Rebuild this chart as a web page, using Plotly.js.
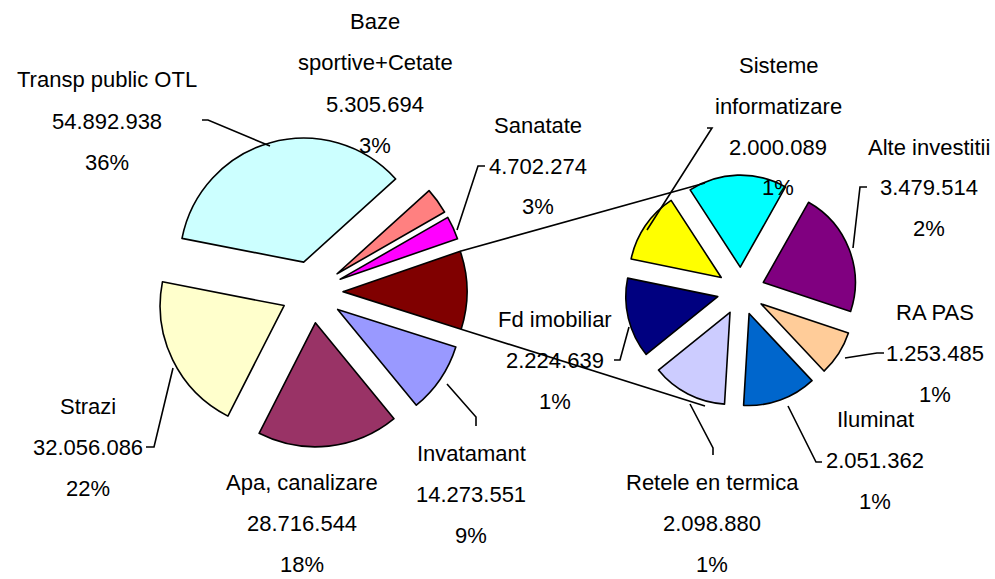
<!DOCTYPE html>
<html><head><meta charset="utf-8">
<script src="https://cdn.plot.ly/plotly-3.0.1.min.js"></script>
<style>html,body{margin:0;padding:0;background:#fff}#chart{width:995px;height:579px}</style>
</head><body><div id="chart"></div>
<script>
// ---------- DATA ----------
// secondary pie (detail of the aggregated slice), clockwise from the top
const secCategories = ['Alte (fara eticheta)', 'Alte investitii', 'RA PAS', 'Iluminat', 'Retele en termica', 'Fd imobiliar', 'Sisteme informatizare'];
const secValues = [2750000, 3479514, 1253485, 2051362, 2098880, 2224639, 2000089];
const secPercentText = ['', '2%', '1%', '1%', '1%', '1%', '1%'];
const secShowLabel = [false, true, true, true, true, true, true];

// main pie, clockwise starting with the aggregated slice
const mainCategories = ['Altele', 'Invatamant', 'Apa, canalizare', 'Strazi', 'Transp public OTL', 'Baze sportive+Cetate', 'Sanatate'];
const mainKnownValues = [null, 14273551, 28716544, 32056086, 54892938, 5305694, 4702274];
const mainPercentText = ['', '9%', '18%', '22%', '36%', '3%', '3%'];
const mainShowLabel = [false, true, true, true, true, true, true];

// ---------- STYLE / LAYOUT ----------
const W = 995, H = 579;
const mainColors = ['#800000', '#9999FF', '#993366', '#FFFFCC', '#CCFFFF', '#FF8080', '#FF00FF'];
const secColors = ['#00FFFF', '#800080', '#FFCC99', '#0066CC', '#CCCCFF', '#000080', '#FFFF00'];
const mainGeom = {cx: 312, cy: 292, R: 124, pull: 0.25, rotation: 71};
const secGeom = {cx: 741, cy: 291, R: 92, pull: 0.26, rotation: -33};
const FONT = {family: 'Liberation Sans, Arial, sans-serif', size: 22, color: '#000'};
const LINE_GAP = 41;
const wrapNames = {'Baze sportive+Cetate': ['Baze', 'sportive+Cetate'], 'Sisteme informatizare': ['Sisteme', 'informatizare']};
const labelPos = {
  'Transp public OTL': {x: 107, y: 80, lead: [[202,120],[208,120],[270,146]]},
  'Baze sportive+Cetate': {x: 375, y: 22, lead: null},
  'Sanatate': {x: 538, y: 125, lead: [[485,166],[478,166],[457,230]]},
  'Invatamant': {x: 471, y: 453, lead: [[476,426],[476,417],[447,384]]},
  'Apa, canalizare': {x: 302, y: 482, lead: null},
  'Strazi': {x: 88, y: 406, lead: [[146,447],[154,447],[173,368]]},
  'Sisteme informatizare': {x: 778, y: 65, lead: [[707,128],[712,128],[647,230]]},
  'Alte investitii': {x: 929, y: 147, lead: [[867,187],[860,187],[853,248]]},
  'RA PAS': {x: 935, y: 312, lead: [[884,353],[877,353],[845,358]]},
  'Iluminat': {x: 875, y: 419, lead: [[822,462],[816,462],[788,406]]},
  'Retele en termica': {x: 712, y: 482, lead: [[713,455],[713,448],[690,404]]},
  'Fd imobiliar': {x: 555, y: 319, lead: [[614,360],[620,360],[629,327]]}
};
const connectorTargets = [[705,183],[705,406]];

// ---------- BUILD ----------
const fx = x => x / W, fy = y => 1 - y / H;
const fmt = v => String(v).replace(/\B(?=(\d{3})+(?!\d))/g, '.');
const otherValue = secValues.reduce((a, b) => a + b, 0);
const mainValues = mainKnownValues.map(v => v === null ? otherValue : v);

function domainOf(g) {
  const h = g.R * (1 + g.pull);
  return {x: [fx(g.cx - h), fx(g.cx + h)], y: [fy(g.cy + h), fy(g.cy - h)]};
}
function pieTrace(labels, values, colors, g) {
  return {
    type: 'pie', labels: labels, values: values, sort: false, direction: 'clockwise',
    rotation: g.rotation, pull: values.map(() => g.pull), textinfo: 'none',
    hoverinfo: 'skip', showlegend: false, domain: domainOf(g),
    marker: {colors: colors, line: {color: '#000', width: 1.6}}
  };
}
const traces = [
  pieTrace(mainCategories, mainValues, mainColors, mainGeom),
  pieTrace(secCategories, secValues, secColors, secGeom)
];

const annotations = [];
const shapes = [];
function addLabels(cats, vals, pcts, show) {
  cats.forEach((c, i) => {
    if (!show[i]) return;
    const p = labelPos[c];
    const lines = (wrapNames[c] || [c]).concat([fmt(vals[i]), pcts[i]]);
    lines.forEach((t, k) => annotations.push({
      xref: 'paper', yref: 'paper', x: fx(p.x), y: fy(p.y + k * LINE_GAP),
      xanchor: 'center', yanchor: 'middle', text: t, showarrow: false, font: FONT
    }));
    if (p.lead) {
      const path = p.lead.map((pt, k) => (k ? 'L' : 'M') + fx(pt[0]) + ',' + fy(pt[1])).join(' ');
      shapes.push({type: 'path', xref: 'paper', yref: 'paper', path: path, line: {color: '#000', width: 1.6}});
    }
  });
}
addLabels(mainCategories, mainValues, mainPercentText, mainShowLabel);
addLabels(secCategories, secValues, secPercentText, secShowLabel);

// connector lines from the aggregated slice's outer corners to the secondary pie
(function () {
  const total = mainValues.reduce((a, b) => a + b, 0);
  const span = mainValues[0] / total * 360;
  const rad = d => d * Math.PI / 180;
  const a0 = mainGeom.rotation, a1 = a0 + span, am = a0 + span / 2;
  const d = mainGeom.pull * mainGeom.R;
  const vx = mainGeom.cx + d * Math.sin(rad(am)), vy = mainGeom.cy - d * Math.cos(rad(am));
  const corners = [a0, a1].map(a => [vx + mainGeom.R * Math.sin(rad(a)), vy - mainGeom.R * Math.cos(rad(a))]);
  corners.forEach((c, k) => shapes.push({
    type: 'line', xref: 'paper', yref: 'paper', x0: fx(c[0]), y0: fy(c[1]),
    x1: fx(connectorTargets[k][0]), y1: fy(connectorTargets[k][1]), line: {color: '#000', width: 1.6}
  }));
})();

const layout = {
  width: W, height: H, margin: {l: 0, r: 0, t: 0, b: 0},
  paper_bgcolor: '#fff', plot_bgcolor: '#fff', showlegend: false,
  annotations: annotations, shapes: shapes, font: FONT
};
Plotly.newPlot('chart', traces, layout, {displayModeBar: false, staticPlot: true});
</script>
</body></html>
